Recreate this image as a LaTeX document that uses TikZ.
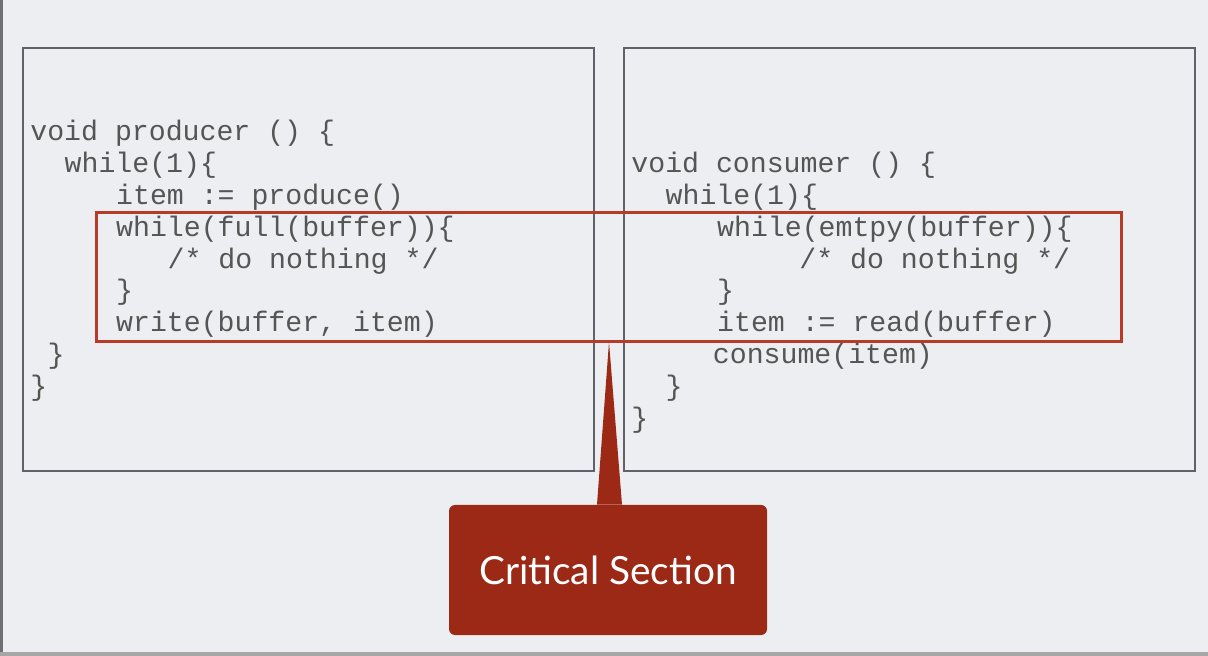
\documentclass[tikz,border=0pt]{standalone}
\usepackage{fontspec}
\newfontfamily\codefont{Liberation Mono}
\newfontfamily\labelfont{Lato}
\definecolor{slidebg}{HTML}{ECEEF1}
\definecolor{edgegray}{HTML}{6E6F72}
\definecolor{boxgray}{HTML}{5F6268}
\definecolor{codegray}{HTML}{555555}
\definecolor{sectred}{HTML}{B93A26}
\definecolor{calloutred}{HTML}{9C2816}

\begin{document}
\begin{tikzpicture}[x=0.5pt,y=-0.5pt,
  code/.style={anchor=base west,inner sep=0pt,text=codegray,
    font=\codefont\fontsize{14.1}{16}\selectfont},
  codebox/.style={draw=boxgray,line width=1pt},
  section/.style={draw=sectred,line width=1.5pt,inner sep=0pt,
    minimum width=512.5pt,minimum height=64.5pt},
  callout/.style={fill=calloutred,rounded corners=3pt,inner sep=0pt,
    minimum width=159pt,minimum height=65pt,text=white,
    font=\labelfont\fontsize{19.4}{24}\selectfont}]
\useasboundingbox (0,0) rectangle (1208,656);
\fill[slidebg] (0,0) rectangle (1208,656);
\fill[edgegray] (0,0) rectangle (3,656);
\fill[gray!70] (0,652) rectangle (1208,656);

% the two code boxes
\draw[codebox] (23,48) rectangle (594,471);
\draw[codebox] (624,48) rectangle (1195,471);

% producer
\node[code] (prod1) at (30,141) {void producer () \{};
\node[code] (prod2) at (64.3,172.8) {while(1)\{};
\node[code] (prod3) at (115.8,204.6) {item := produce()};
\node[code] (prod4) at (115.8,236.4) {while(full(buffer))\{};
\node[code] (prod5) at (167.3,268.2) {/* do nothing */};
\node[code] (prod6) at (115.8,300) {\}};
\node[code] (prod7) at (115.8,331.8) {write(buffer, item)};
\node[code] (prod8) at (47.2,363.6) {\}};
\node[code] (prod9) at (30,395.4) {\}};

% consumer
\node[code] (cons1) at (631,172.8) {void consumer () \{};
\node[code] (cons2) at (665.3,204.6) {while(1)\{};
\node[code] (cons3) at (716.8,236.4) {while(emtpy(buffer))\{};
\node[code] (cons4) at (799,268.2) {/* do nothing */};
\node[code] (cons5) at (716.8,300) {\}};
\node[code] (cons6) at (716.8,331.8) {item := read(buffer)};
\node[code] (cons7) at (712.5,363.6) {consume(item)};
\node[code] (cons8) at (665.3,395.4) {\}};
\node[code] (cons9) at (631,427.2) {\}};

% critical section and its callout
\node[section] (crit) at (608.5,277.5) {};
\node[callout] (label) at (608,570) {Critical Section};
\coordinate (tip) at (609,342);
\fill[calloutred] ([xshift=-5.5pt]label.north) -- (tip) -- ([xshift=7pt]label.north) -- cycle;
\end{tikzpicture}
\end{document}
